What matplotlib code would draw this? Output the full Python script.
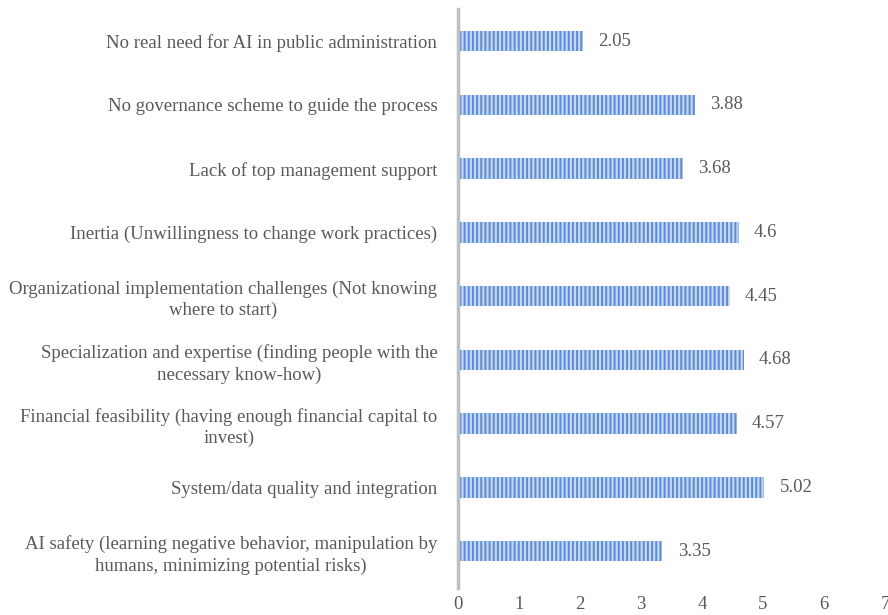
# Barriers to AI adoption - horizontal bar chart
import matplotlib.pyplot as plt

plt.rcParams['font.family'] = ['Liberation Serif', 'DejaVu Serif']
plt.rcParams['hatch.linewidth'] = 1.4

# Data
barriers = [
    'AI safety (learning negative behavior, manipulation by\nhumans, minimizing potential risks)',
    'System/data quality and integration',
    'Financial feasibility (having enough financial capital to\ninvest)',
    'Specialization and expertise (finding people with the\nnecessary know-how)',
    'Organizational implementation challenges (Not knowing\nwhere to start)',
    'Inertia (Unwillingness to change work practices)',
    'Lack of top management support',
    'No governance scheme to guide the process',
    'No real need for AI in public administration',
]
scores = [3.35, 5.02, 4.57, 4.68, 4.45, 4.6, 3.68, 3.88, 2.05]
value_labels = ['3.35', '5.02', '4.57', '4.68', '4.45', '4.6', '3.68', '3.88', '2.05']

text_color = '#595959'
fs = 13.5

fig = plt.figure(figsize=(8.88, 6.15), dpi=100)
ax = fig.add_axes([0.516, 0.052, 0.4806, 0.933])

pos = range(len(barriers))
ax.barh(pos, scores, height=0.32, color='#c5d8f1', edgecolor='#5b8bd5',
        hatch='||||', linewidth=0)

for p, v, lab in zip(pos, scores, value_labels):
    ax.annotate(lab, (v, p), xytext=(11, 0), textcoords='offset points',
                va='center', ha='left', fontsize=fs, color=text_color)

ax.set_xlim(0, 7)
ax.set_ylim(-0.5, len(barriers) - 0.5)
ax.set_yticks(list(pos))
ax.set_yticklabels(barriers, multialignment='center', linespacing=1.3,
                   fontsize=fs, color=text_color)
ax.set_xticks(range(8))
ax.tick_params(axis='x', length=0, labelsize=fs, labelcolor=text_color, pad=9)
ax.tick_params(axis='y', length=0, pad=15)

for s in ['top', 'right', 'bottom']:
    ax.spines[s].set_visible(False)
ax.spines['left'].set_color('#bfbfbf')
ax.spines['left'].set_linewidth(2.5)
ax.spines['left'].set_bounds(-0.58, 8.5)

plt.savefig('out.png', dpi=100)
